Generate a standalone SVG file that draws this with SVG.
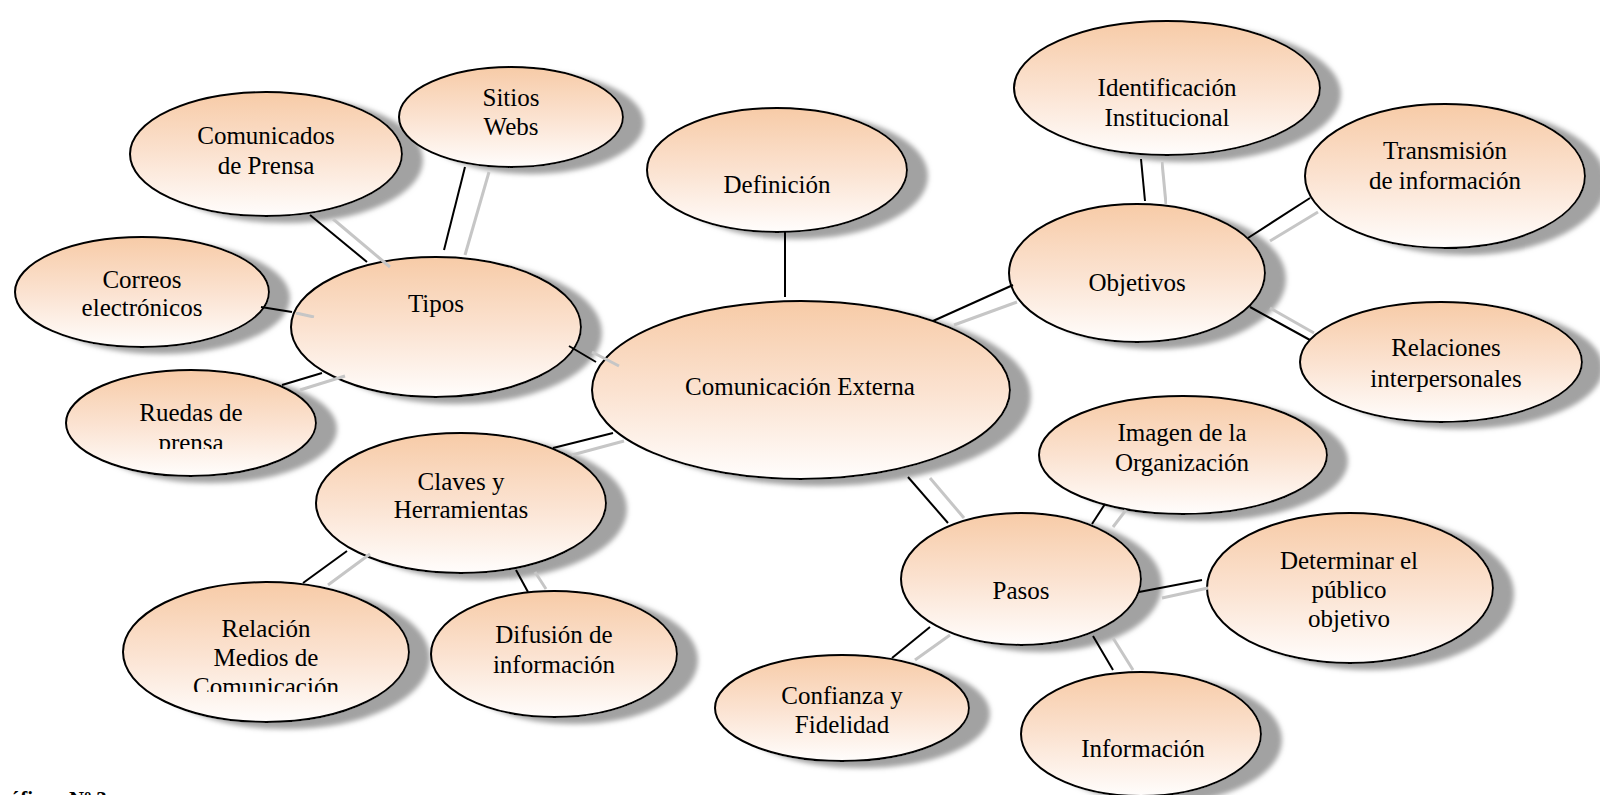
<svg xmlns="http://www.w3.org/2000/svg" width="1600" height="795" viewBox="0 0 1600 795">
  <defs>
    <linearGradient id="peach" x1="0" y1="0" x2="0" y2="1">
      <stop offset="0" stop-color="#f7cba7"/>
      <stop offset="0.5" stop-color="#fbe2d0"/>
      <stop offset="1" stop-color="#fffdfc"/>
    </linearGradient>
    <filter id="shadow" x="-20%" y="-20%" width="150%" height="150%">
      <feGaussianBlur in="SourceAlpha" stdDeviation="2.5"/>
      <feOffset dx="20" dy="6" result="off"/>
      <feFlood flood-color="#a2a2a2"/>
      <feComposite in2="off" operator="in"/>
      <feMerge>
        <feMergeNode/>
        <feMergeNode in="SourceGraphic"/>
      </feMerge>
    </filter>
    <filter id="soft" x="-20%" y="-20%" width="140%" height="140%">
      <feGaussianBlur stdDeviation="0.6"/>
    </filter>
    <clipPath id="clipRuedas"><rect x="0" y="0" width="400" height="449"/></clipPath>
    <clipPath id="clipMedios"><rect x="0" y="0" width="500" height="692"/></clipPath>
    <style>
      .bubble { fill: url(#peach); stroke: #000; stroke-width: 2; filter: url(#shadow); }
      .label { font-family: "Liberation Serif", "Times New Roman", serif; font-size: 25px; fill: #000; text-anchor: middle; }
      .link { stroke: #000; stroke-width: 2; fill: none; }
      .link-shade { stroke: #c6c6c6; stroke-width: 3; fill: none; filter: url(#soft); }
      .caption { font-family: "Liberation Serif", "Times New Roman", serif; font-size: 21px; font-weight: bold; fill: #000; }
    </style>
  </defs>

  <rect width="1600" height="795" fill="#fff"/>

  <!-- nodes -->
  <g id="nodes">
    <g id="n-comunicados">
      <ellipse class="bubble" cx="266" cy="154" rx="136" ry="62"/>
      <text class="label" x="266" y="144">Comunicados</text>
      <text class="label" x="266" y="174">de Prensa</text>
    </g>
    <g id="n-sitios">
      <ellipse class="bubble" cx="511" cy="117" rx="112" ry="50"/>
      <text class="label" x="511" y="106">Sitios</text>
      <text class="label" x="511" y="135">Webs</text>
    </g>
    <g id="n-correos">
      <ellipse class="bubble" cx="142" cy="292" rx="127" ry="55"/>
      <text class="label" x="142" y="288">Correos</text>
      <text class="label" x="142" y="316">electrónicos</text>
    </g>
    <g id="n-ruedas">
      <ellipse class="bubble" cx="191" cy="423" rx="125" ry="53"/>
      <text class="label" x="191" y="421">Ruedas de</text>
      <text class="label" x="191" y="451" clip-path="url(#clipRuedas)">prensa</text>
    </g>
    <g id="n-tipos">
      <ellipse class="bubble" cx="436" cy="327" rx="145" ry="70"/>
      <text class="label" x="436" y="312">Tipos</text>
    </g>
    <g id="n-definicion">
      <ellipse class="bubble" cx="777" cy="170" rx="130" ry="62"/>
      <text class="label" x="777" y="193">Definición</text>
    </g>
    <g id="n-identificacion">
      <ellipse class="bubble" cx="1167" cy="88" rx="153" ry="67"/>
      <text class="label" x="1167" y="96">Identificación</text>
      <text class="label" x="1167" y="126">Institucional</text>
    </g>
    <g id="n-transmision">
      <ellipse class="bubble" cx="1445" cy="176" rx="140" ry="72"/>
      <text class="label" x="1445" y="159">Transmisión</text>
      <text class="label" x="1445" y="189">de información</text>
    </g>
    <g id="n-objetivos">
      <ellipse class="bubble" cx="1137" cy="273" rx="128" ry="69"/>
      <text class="label" x="1137" y="291">Objetivos</text>
    </g>
    <g id="n-relaciones">
      <ellipse class="bubble" cx="1441" cy="362" rx="141" ry="60"/>
      <text class="label" x="1446" y="356">Relaciones</text>
      <text class="label" x="1446" y="387">interpersonales</text>
    </g>
    <g id="n-externa">
      <ellipse class="bubble" cx="801" cy="390" rx="209" ry="89"/>
      <text class="label" x="800" y="395">Comunicación Externa</text>
    </g>
    <g id="n-claves">
      <ellipse class="bubble" cx="461" cy="503" rx="145" ry="70"/>
      <text class="label" x="461" y="490">Claves y</text>
      <text class="label" x="461" y="518">Herramientas</text>
    </g>
    <g id="n-medios">
      <ellipse class="bubble" cx="266" cy="652" rx="143" ry="70"/>
      <text class="label" x="266" y="637">Relación</text>
      <text class="label" x="266" y="666">Medios de</text>
      <text class="label" x="266" y="695" clip-path="url(#clipMedios)">Comunicación</text>
    </g>
    <g id="n-difusion">
      <ellipse class="bubble" cx="554" cy="654" rx="123" ry="63"/>
      <text class="label" x="554" y="643">Difusión de</text>
      <text class="label" x="554" y="673">información</text>
    </g>
    <g id="n-imagen">
      <ellipse class="bubble" cx="1183" cy="455" rx="144" ry="59"/>
      <text class="label" x="1182" y="441">Imagen de la</text>
      <text class="label" x="1182" y="471">Organización</text>
    </g>
    <g id="n-pasos">
      <ellipse class="bubble" cx="1021" cy="579" rx="120" ry="66"/>
      <text class="label" x="1021" y="599">Pasos</text>
    </g>
    <g id="n-determinar">
      <ellipse class="bubble" cx="1350" cy="588" rx="143" ry="75"/>
      <text class="label" x="1349" y="569">Determinar el</text>
      <text class="label" x="1349" y="598">público</text>
      <text class="label" x="1349" y="627">objetivo</text>
    </g>
    <g id="n-confianza">
      <ellipse class="bubble" cx="842" cy="708" rx="127" ry="53"/>
      <text class="label" x="842" y="704">Confianza y</text>
      <text class="label" x="842" y="733">Fidelidad</text>
    </g>
    <g id="n-informacion">
      <ellipse class="bubble" cx="1141" cy="734" rx="120" ry="62"/>
      <text class="label" x="1143" y="757">Información</text>
    </g>
  </g>

  <!-- connectors: black rule plus its grey offset shade -->
  <g id="connectors">
    <line class="link-shade" x1="333" y1="219" x2="390" y2="267"/>
    <line class="link" x1="310" y1="215" x2="367" y2="262"/>

    <line class="link-shade" x1="489" y1="172" x2="465" y2="255"/>
    <line class="link" x1="465" y1="167" x2="444" y2="250"/>

    <line class="link-shade" x1="296" y1="313" x2="314" y2="317"/>
    <line class="link" x1="261" y1="307" x2="292" y2="312"/>

    <line class="link-shade" x1="300" y1="390" x2="345" y2="376"/>
    <line class="link" x1="282" y1="385" x2="322" y2="373"/>

    <line class="link-shade" x1="592" y1="352" x2="619" y2="366"/>
    <line class="link" x1="569" y1="346" x2="596" y2="362"/>

    <line class="link-shade" x1="572" y1="455" x2="624" y2="441"/>
    <line class="link" x1="553" y1="448" x2="613" y2="433"/>

    <line class="link-shade" x1="370" y1="554" x2="328" y2="585"/>
    <line class="link" x1="347" y1="551" x2="303" y2="583"/>

    <line class="link-shade" x1="535" y1="572" x2="546" y2="589"/>
    <line class="link" x1="516" y1="570" x2="528" y2="592"/>

    <line class="link-shade" x1="806" y1="235" x2="806" y2="300"/>
    <line class="link" x1="785" y1="232" x2="785" y2="297"/>

    <line class="link-shade" x1="954" y1="325" x2="1017" y2="302"/>
    <line class="link" x1="933" y1="321" x2="1013" y2="285"/>

    <line class="link-shade" x1="1162" y1="162" x2="1166" y2="204"/>
    <line class="link" x1="1141" y1="159" x2="1145" y2="201"/>

    <line class="link-shade" x1="1270" y1="241" x2="1318" y2="212"/>
    <line class="link" x1="1248" y1="238" x2="1310" y2="198"/>

    <line class="link-shade" x1="1270" y1="308" x2="1314" y2="333"/>
    <line class="link" x1="1250" y1="307" x2="1310" y2="340"/>

    <line class="link-shade" x1="930" y1="478" x2="964" y2="518"/>
    <line class="link" x1="908" y1="477" x2="948" y2="523"/>

    <line class="link-shade" x1="1113" y1="527" x2="1126" y2="510"/>
    <line class="link" x1="1092" y1="524" x2="1105" y2="504"/>

    <line class="link-shade" x1="1162" y1="598" x2="1208" y2="588"/>
    <line class="link" x1="1139" y1="592" x2="1202" y2="580"/>

    <line class="link-shade" x1="950" y1="635" x2="915" y2="660"/>
    <line class="link" x1="930" y1="627" x2="892" y2="658"/>

    <line class="link-shade" x1="1113" y1="638" x2="1133" y2="670"/>
    <line class="link" x1="1093" y1="636" x2="1113" y2="670"/>
  </g>

  <!-- caption, mostly below the bottom edge -->
  <text class="caption" x="-16" y="806">Gráfico <tspan x="69">Nº 3</tspan></text>
</svg>
